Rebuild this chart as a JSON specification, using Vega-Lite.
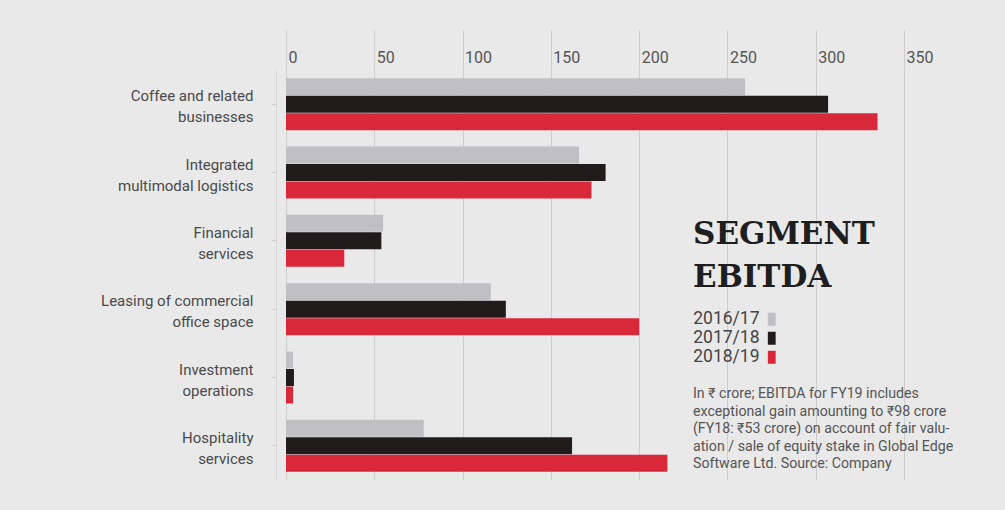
{
  "$schema": "https://vega.github.io/schema/vega-lite/v6.json",
  "width": 618,
  "height": 410,
  "autosize": "none",
  "padding": {"left": 286, "top": 70, "right": 101, "bottom": 30},
  "background": "#e9e9e9",
  "config": {"view": {"stroke": null}, "font": "Roboto"},
  "data": {
    "values": [
      {"segment": "Coffee and related|businesses", "year": "2016/17", "value": 260},
      {"segment": "Coffee and related|businesses", "year": "2017/18", "value": 307},
      {"segment": "Coffee and related|businesses", "year": "2018/19", "value": 335},
      {"segment": "Integrated|multimodal logistics", "year": "2016/17", "value": 166},
      {"segment": "Integrated|multimodal logistics", "year": "2017/18", "value": 181},
      {"segment": "Integrated|multimodal logistics", "year": "2018/19", "value": 173},
      {"segment": "Financial|services", "year": "2016/17", "value": 55},
      {"segment": "Financial|services", "year": "2017/18", "value": 54},
      {"segment": "Financial|services", "year": "2018/19", "value": 33},
      {"segment": "Leasing of commercial|office space", "year": "2016/17", "value": 116},
      {"segment": "Leasing of commercial|office space", "year": "2017/18", "value": 124.5},
      {"segment": "Leasing of commercial|office space", "year": "2018/19", "value": 200},
      {"segment": "Investment|operations", "year": "2016/17", "value": 4},
      {"segment": "Investment|operations", "year": "2017/18", "value": 4.5},
      {"segment": "Investment|operations", "year": "2018/19", "value": 4},
      {"segment": "Hospitality|services", "year": "2016/17", "value": 78},
      {"segment": "Hospitality|services", "year": "2017/18", "value": 162},
      {"segment": "Hospitality|services", "year": "2018/19", "value": 216}
    ]
  },
  "title": {
    "text": [
      "In ₹ crore; EBITDA for FY19 includes",
      "exceptional gain amounting to ₹98 crore",
      "(FY18: ₹53 crore) on account of fair valu-",
      "ation / sale of equity stake in Global Edge",
      "Software Ltd. Source: Company"
    ],
    "orient": "bottom",
    "anchor": "start",
    "frame": "group",
    "baseline": "top",
    "offset": 0,
    "dx": 407,
    "dy": -93,
    "font": "Roboto",
    "fontSize": 14.2,
    "fontWeight": "normal",
    "color": "#555555",
    "lineHeight": 17.5
  },
  "mark": {"type": "bar"},
  "encoding": {
    "y": {
      "field": "segment",
      "type": "nominal",
      "sort": [
        "Coffee and related|businesses",
        "Integrated|multimodal logistics",
        "Financial|services",
        "Leasing of commercial|office space",
        "Investment|operations",
        "Hospitality|services"
      ],
      "scale": {"paddingInner": 0.24, "paddingOuter": 0.12},
      "title": null,
      "axis": {
        "offset": 10,
        "domain": true,
        "domainColor": "#d6d6d6",
        "ticks": true,
        "tickColor": "#cfcfcf",
        "tickSize": 5,
        "labelPadding": 18,
        "labelOffset": -8,
        "labelExpr": "split(datum.label, '|')",
        "labelFont": "Roboto",
        "labelFontSize": 15,
        "labelColor": "#4a4a4a",
        "labelLineHeight": 21,
        "labelBaseline": "middle"
      }
    },
    "x": {
      "field": "value",
      "type": "quantitative",
      "scale": {"domain": [0, 350], "nice": false},
      "title": null,
      "axis": {
        "orient": "top",
        "values": [0, 50, 100, 150, 200, 250, 300, 350],
        "grid": true,
        "gridColor": "#cdcdcd",
        "gridWidth": 1,
        "domain": false,
        "ticks": true,
        "tickSize": 40,
        "tickColor": "#cdcdcd",
        "labelPadding": -35,
        "labelAlign": "left",
        "labelOffset": 2,
        "labelFont": "Roboto",
        "labelFontSize": 16,
        "labelColor": "#555555"
      }
    },
    "yOffset": {"field": "year", "type": "nominal", "scale": {"paddingInner": 0.03}},
    "color": {
      "field": "year",
      "type": "nominal",
      "scale": {"domain": ["2016/17", "2017/18", "2018/19"], "range": ["#c0c0c4", "#221b1c", "#d8283a"]},
      "legend": {
        "orient": "none",
        "legendX": 407,
        "legendY": 150,
        "padding": 0,
        "title": ["SEGMENT", "EBITDA"],
        "titleFont": "DejaVu Serif",
        "titleFontSize": 31,
        "titleFontWeight": "bold",
        "titleColor": "#1e1e1e",
        "titleLineHeight": 43,
        "titleLimit": 400,
        "titlePadding": 16.5,
        "labelFont": "Roboto",
        "labelFontSize": 17.5,
        "labelColor": "#444444",
        "labelAlign": "right",
        "labelOffset": -21,
        "symbolOffset": 70,
        "symbolType": "M-0.6,-1H0.6V1H-0.6Z",
        "symbolSize": 169,
        "symbolStrokeWidth": 0,
        "symbolOpacity": 1,
        "rowPadding": 0
      }
    }
  }
}
